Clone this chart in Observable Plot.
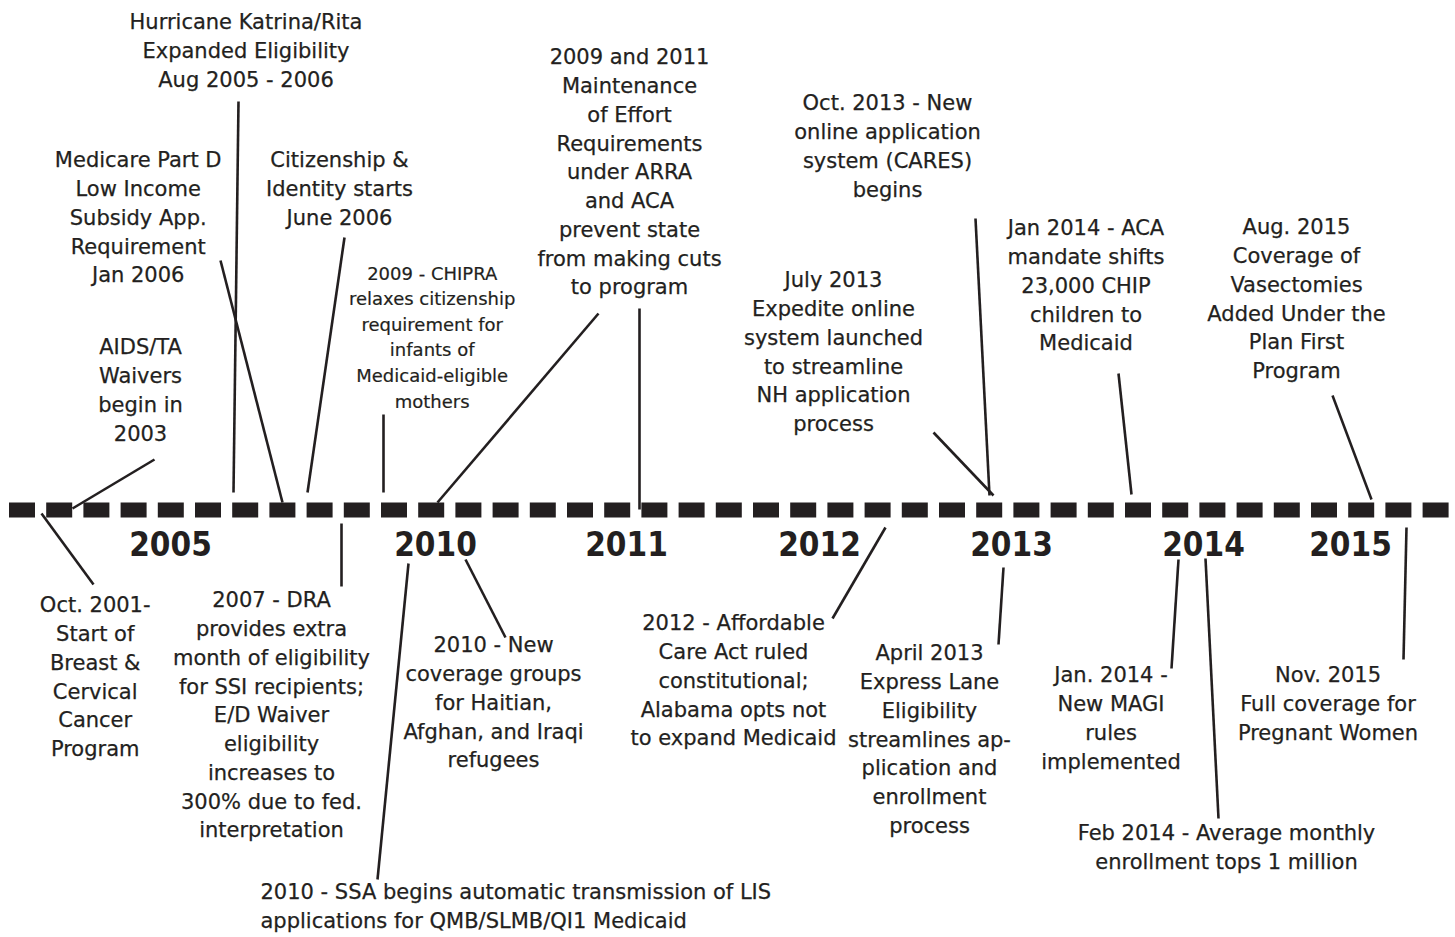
<!DOCTYPE html>
<html>
<head>
<meta charset="utf-8">
<script src="https://cdn.jsdelivr.net/npm/d3@7"></script>
<script src="https://cdn.jsdelivr.net/npm/@observablehq/plot@0.6"></script>
<style>
  html, body { margin: 0; padding: 0; background: #fff; }
  #chart svg { display: block; }
</style>
</head>
<body>
<div id="chart"></div>
<script>
// ---- Data ----
// Year markers along the timeline (timeline units = page position)
const years = ["2005", "2010", "2011", "2012", "2013", "2014", "2015"];
const yearPos = [170, 435, 626, 819, 1011, 1203, 1350];
const yearLevel = 545;

// Timeline extent
const timelineStart = 9;
const timelineEnd = 1449;
const timelineLevel = 509.5;

// Event annotations (centered)
const eventText = [
  "Hurricane Katrina/Rita\nExpanded Eligibility\nAug 2005 - 2006",
  "Medicare Part D\nLow Income\nSubsidy App.\nRequirement\nJan 2006",
  "Citizenship &\nIdentity starts\nJune 2006",
  "AIDS/TA\nWaivers\nbegin in\n2003",
  "2009 and 2011\nMaintenance\nof Effort\nRequirements\nunder ARRA\nand ACA\nprevent state\nfrom making cuts\nto program",
  "Oct. 2013 - New\nonline application\nsystem (CARES)\nbegins",
  "July 2013\nExpedite online\nsystem launched\nto streamline\nNH application\nprocess",
  "Jan 2014 - ACA\nmandate shifts\n23,000 CHIP\nchildren to\nMedicaid",
  "Aug. 2015\nCoverage of\nVasectomies\nAdded Under the\nPlan First\nProgram",
  "Oct. 2001-\nStart of\nBreast &\nCervical\nCancer\nProgram",
  "2007 - DRA\nprovides extra\nmonth of eligibility\nfor SSI recipients;\nE/D Waiver\neligibility\nincreases to\n300% due to fed.\ninterpretation",
  "2010 - New\ncoverage groups\nfor Haitian,\nAfghan, and Iraqi\nrefugees",
  "2012 - Affordable\nCare Act ruled\nconstitutional;\nAlabama opts not\nto expand Medicaid",
  "April 2013\nExpress Lane\nEligibility\nstreamlines ap-\nplication and\nenrollment\nprocess",
  "Jan. 2014 -\nNew MAGI\nrules\nimplemented",
  "Nov. 2015\nFull coverage for\nPregnant Women",
  "Feb 2014 - Average monthly\nenrollment tops 1 million"
];
const eventX = [245.5, 137.7, 339, 140, 629, 887, 833, 1085.5, 1296, 94.7, 271, 493, 733, 929, 1110.5, 1327.5, 1226];
const eventY = [22, 160, 160, 347, 57, 103, 280, 228, 227, 605, 600, 645, 623, 653, 675, 675, 833];

// Small annotation
const smallText = ["2009 - CHIPRA\nrelaxes citizenship\nrequirement for\ninfants of\nMedicaid-eligible\nmothers"];
const smallX = [431.7];
const smallY = [273];

// Left-aligned annotation
const leftText = ["2010 - SSA begins automatic transmission of LIS\napplications for QMB/SLMB/QI1 Medicaid"];
const leftX = [260];
const leftY = [892];

// Leader lines
const leaderX1 = [41, 154, 238, 220, 344, 383, 598, 639, 975, 933, 1118, 1332, 341, 408, 465, 885, 1003, 1178, 1205, 1406];
const leaderY1 = [513, 459, 101, 260, 237, 414, 313, 308, 218, 432, 373, 395, 523, 563, 559, 527, 567, 559, 558, 527];
const leaderX2 = [93, 72, 233, 282, 307, 383, 437, 639, 989, 993, 1131, 1371, 341, 377, 505, 832, 998, 1171, 1218, 1403];
const leaderY2 = [584, 508, 492, 502, 492, 492, 502, 509, 495, 495, 494, 499, 586, 879, 637, 618, 644, 668, 818, 659];

// ---- Build tables ----
const ink = "#231f20";
const events = eventText.map((t, i) => ({text: t, x: eventX[i], y: eventY[i]}));
const smalls = smallText.map((t, i) => ({text: t, x: smallX[i], y: smallY[i]}));
const lefts = leftText.map((t, i) => ({text: t, x: leftX[i], y: leftY[i]}));
const leaders = leaderX1.map((x1, i) => ({x1, y1: leaderY1[i], x2: leaderX2[i], y2: leaderY2[i]}));
const yearData = years.map((y, i) => ({year: y, x: yearPos[i], y: yearLevel}));

const W = 1455, H = 937;
const chart = Plot.plot({
  width: W,
  height: H,
  margin: 0,
  x: {domain: [0, W], range: [0, W], axis: null},
  y: {domain: [0, H], range: [0, H], axis: null},
  style: {background: "#fff"},
  marks: [
    Plot.link(leaders, {x1: "x1", y1: "y1", x2: "x2", y2: "y2", stroke: ink, strokeWidth: 2.6}),
    Plot.ruleY([timelineLevel], {x1: timelineStart, x2: timelineEnd, stroke: ink, strokeWidth: 15, strokeDasharray: "26,11.2"}),
    Plot.text(yearData, {x: "x", y: "y", text: "year", fill: ink, fontSize: 33, fontWeight: "bold",
      fontFamily: "'DejaVu Sans Condensed', 'DejaVu Sans', sans-serif", fontStretch: "condensed"}),
    Plot.text(events, {x: "x", y: "y", text: "text", fill: ink, fontSize: 21, lineHeight: 1.369,
      lineAnchor: "top", dy: -13.5, stroke: ink, strokeWidth: 0.25, fontFamily: "'DejaVu Sans', sans-serif"}),
    Plot.text(smalls, {x: "x", y: "y", text: "text", fill: ink, fontSize: 18, lineHeight: 1.422,
      lineAnchor: "top", dy: -12, stroke: ink, strokeWidth: 0.2, fontFamily: "'DejaVu Sans', sans-serif"}),
    Plot.text(lefts, {x: "x", y: "y", text: "text", fill: ink, fontSize: 21, lineHeight: 1.369,
      lineAnchor: "top", dy: -13.5, stroke: ink, strokeWidth: 0.25, textAnchor: "start", fontFamily: "'DejaVu Sans', sans-serif"})
  ]
});
document.getElementById("chart").appendChild(chart);
</script>
</body>
</html>
